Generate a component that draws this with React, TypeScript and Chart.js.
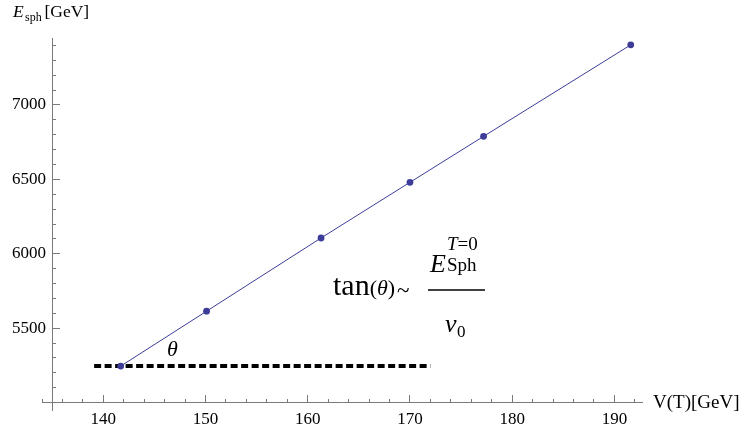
import React, { useEffect, useRef } from "react";
import { Chart, registerables } from "chart.js";

Chart.register(...registerables);

// ---- data ----
const vT = [141.7, 150.1, 161.3, 170.0, 177.2, 191.6];
const eSph = [5245, 5614, 6106, 6480, 6789, 7404];
const refLineX = [139.1, 172.0];
const refLineY = [5246, 5246];
const xTickLabels = [140, 150, 160, 170, 180, 190];
const yTickLabels = [5500, 6000, 6500, 7000];
const yMajorTicks = [5000, 5500, 6000, 6500, 7000];

const X_MIN = 134;
const X_MAX = 192.7;
const Y_MIN = 4950;
const Y_MAX = 7450;
const X_CROSS = 135;
const Y_CROSS = 5000;
const X_MINOR_STEP = 2;
const Y_MINOR_STEP = 100;

const SERIF = "'Liberation Serif', 'Times New Roman', serif";
const AXIS_COLOR = "#7a7a7a";
const BLUE = "rgb(61,61,153)";

function stepTicks(from: number, to: number, step: number) {
  const out: { value: number }[] = [];
  for (let v = from; v <= to + 1e-9; v += step) out.push({ value: Math.round(v * 1000) / 1000 });
  return out;
}
const setTicks = (vals: { value: number }[]) => (scale: any) => {
  scale.ticks = vals.map((t) => ({ value: t.value }));
};

const textPlugin = {
  id: "annotText",
  afterDraw(chart: any) {
    const ctx = chart.ctx as CanvasRenderingContext2D;
    const ys = chart.scales.y;
    ctx.save();
    ctx.fillStyle = "#000";
    ctx.textBaseline = "alphabetic";
    ctx.textAlign = "left";

    // y axis title
    ctx.font = `italic 17.5px ${SERIF}`;
    ctx.fillText("E", 13, 17);
    ctx.font = `12px ${SERIF}`;
    ctx.fillText("sph", 25, 21);
    ctx.font = `17.5px ${SERIF}`;
    ctx.fillText("[GeV]", 44.5, 17);

    // x axis title
    const yAxisPix = ys.getPixelForValue(Y_CROSS);
    ctx.textBaseline = "middle";
    ctx.font = `19px ${SERIF}`;
    ctx.fillText("V(T)[GeV]", 653, yAxisPix);
    ctx.textBaseline = "alphabetic";

    // theta label
    ctx.font = `italic 22px ${SERIF}`;
    ctx.fillText("\u03B8", 167, 356);

    // formula
    ctx.font = `30px ${SERIF}`;
    ctx.fillText("tan", 333, 295);
    let x = 333 + ctx.measureText("tan").width;
    ctx.font = `22px ${SERIF}`;
    ctx.fillText("(", x, 295);
    x += ctx.measureText("(").width;
    ctx.font = `italic 22px ${SERIF}`;
    ctx.fillText("\u03B8", x, 295);
    x += ctx.measureText("\u03B8").width;
    ctx.font = `22px ${SERIF}`;
    ctx.fillText(")", x, 295);
    x += ctx.measureText(")").width;
    ctx.font = `23px ${SERIF}`;
    ctx.fillText("~", x + 2, 298);

    // fraction bar
    ctx.strokeStyle = "#000";
    ctx.lineWidth = 1.3;
    ctx.beginPath();
    ctx.moveTo(428, 290);
    ctx.lineTo(485, 290);
    ctx.stroke();

    // numerator
    ctx.font = `italic 26px ${SERIF}`;
    ctx.fillText("E", 430, 272);
    ctx.font = `italic 19px ${SERIF}`;
    ctx.fillText("T", 447, 250);
    const tw = ctx.measureText("T").width;
    ctx.font = `19px ${SERIF}`;
    ctx.fillText("=0", 447 + tw, 250);
    ctx.fillText("Sph", 447, 271);

    // denominator
    ctx.font = `italic 26px ${SERIF}`;
    ctx.fillText("v", 445, 332);
    ctx.font = `17px ${SERIF}`;
    ctx.fillText("0", 457, 337);

    ctx.restore();
  },
};

export default function App() {
  const ref = useRef<HTMLCanvasElement | null>(null);

  useEffect(() => {
    document.body.style.margin = "0";
    if (!ref.current) return;

    const tickFont = { family: SERIF, size: 17 };
    const xMinor = stepTicks(X_MIN, X_MAX, X_MINOR_STEP);
    const yMinor = stepTicks(Y_CROSS, Y_MAX, Y_MINOR_STEP);
    const xMajor = xTickLabels.map((v) => ({ value: v }));
    const yMajor = yMajorTicks.map((v) => ({ value: v }));
    const yLab = yTickLabels.map((v) => ({ value: v }));

    const chart = new Chart(ref.current, {
      type: "line",
      data: {
        datasets: [
          {
            label: "E_sph",
            data: vT.map((v, i) => ({ x: v, y: eSph[i] })),
            borderColor: BLUE,
            backgroundColor: BLUE,
            borderWidth: 1,
            pointRadius: 3.4,
            pointBorderWidth: 0,
            tension: 0,
            xAxisID: "x",
            yAxisID: "y",
          },
          {
            label: "ref",
            data: refLineX.map((v, i) => ({ x: v, y: refLineY[i] })),
            borderColor: "#000",
            borderWidth: 4,
            borderDash: [7, 3.5],
            borderCapStyle: "butt",
            pointRadius: 0,
            xAxisID: "x",
            yAxisID: "y",
          },
        ],
      },
      options: {
        animation: false,
        responsive: true,
        maintainAspectRatio: false,
        layout: { padding: { left: 42, right: 103, top: 38, bottom: 22 } },
        plugins: { legend: { display: false }, tooltip: { enabled: false } },
        scales: {
          x: {
            type: "linear",
            axis: "x",
            min: X_MIN,
            max: X_MAX,
            position: { y: Y_CROSS },
            afterBuildTicks: setTicks(xMinor),
            ticks: { display: false },
            grid: { drawOnChartArea: false, drawTicks: true, tickLength: -4, color: AXIS_COLOR },
            border: { display: true, color: AXIS_COLOR, width: 1 },
          },
          xMajor: {
            type: "linear",
            axis: "x",
            min: X_MIN,
            max: X_MAX,
            position: { y: Y_CROSS },
            afterBuildTicks: setTicks(xMajor),
            ticks: {
              padding: 15,
              color: "#000",
              font: tickFont,
              maxRotation: 0,
              autoSkip: false,
              callback: (v: any) => (xTickLabels.includes(Number(v)) ? String(v) : ""),
            },
            grid: { drawOnChartArea: false, drawTicks: true, tickLength: -8, color: AXIS_COLOR },
            border: { display: false },
          },
          y: {
            type: "linear",
            axis: "y",
            min: Y_MIN,
            max: Y_MAX,
            position: { x: X_CROSS },
            afterBuildTicks: setTicks(yMinor),
            ticks: { display: false },
            grid: { drawOnChartArea: false, drawTicks: true, tickLength: -4, color: AXIS_COLOR },
            border: { display: true, color: AXIS_COLOR, width: 1 },
          },
          yMajor: {
            type: "linear",
            axis: "y",
            min: Y_MIN,
            max: Y_MAX,
            position: { x: X_CROSS },
            afterBuildTicks: setTicks(yMajor),
            ticks: { display: false },
            grid: { drawOnChartArea: false, drawTicks: true, tickLength: -8, color: AXIS_COLOR },
            border: { display: false },
          },
          yLabels: {
            type: "linear",
            axis: "y",
            min: Y_MIN,
            max: Y_MAX,
            position: { x: 134.4 },
            afterBuildTicks: setTicks(yLab),
            ticks: {
              color: "#000",
              font: tickFont,
              autoSkip: false,
              callback: (v: any) => (yTickLabels.includes(Number(v)) ? String(v) : ""),
            },
            grid: { display: false, drawTicks: false },
            border: { display: false },
          },
        },
      } as any,
      plugins: [textPlugin],
    });

    return () => chart.destroy();
  }, []);

  return (
    <div style={{ position: "relative", width: 745, height: 432 }}>
      <canvas ref={ref} />
    </div>
  );
}
